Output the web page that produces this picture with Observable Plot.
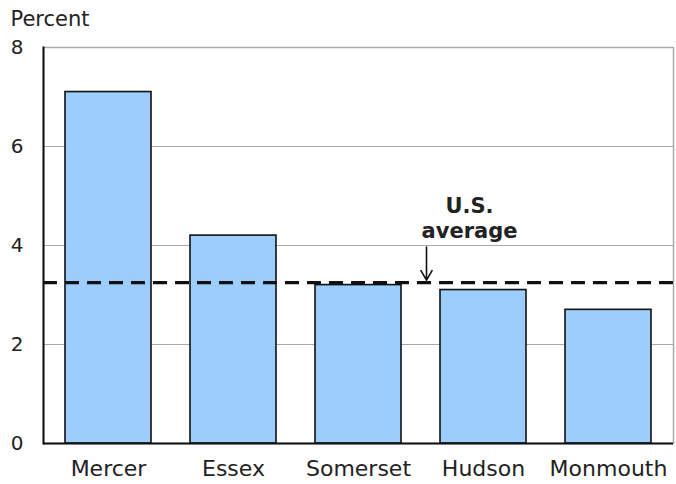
<!DOCTYPE html>
<html><head><meta charset="utf-8">
<script src="https://cdn.jsdelivr.net/npm/d3@7"></script>
<script src="https://cdn.jsdelivr.net/npm/@observablehq/plot@0.6"></script>
<style>body{margin:0;background:#fff;} svg{font-family:"DejaVu Sans",sans-serif;}</style>
</head><body><div id="chart"></div>
<script>
const counties = ["Mercer", "Essex", "Somerset", "Hudson", "Monmouth"];
const values = [7.1, 4.2, 3.2, 3.1, 2.7];
const usAverage = 3.25;
const yTicks = [0, 2, 4, 6, 8];
const yLabel = "Percent";
const noteText = "U.S.\naverage";

const data = counties.map((c, i) => ({county: c, value: values[i]}));

const chart = Plot.plot({
  width: 676, height: 484,
  marginLeft: 43, marginRight: 3, marginTop: 47, marginBottom: 41,
  style: {fontFamily: "'DejaVu Sans', sans-serif", background: "#fff"},
  x: {domain: counties, paddingInner: 0.31, paddingOuter: 0.16, label: null},
  y: {domain: [0, 8], label: null},
  marks: [
    Plot.gridY(yTicks, {stroke: "#aaa", strokeOpacity: 1, strokeWidth: 1}),
    Plot.frame({stroke: "#aaa", strokeWidth: 1.5}),
    Plot.barY(data, {x: "county", y: "value", fill: "#9dcdfc", stroke: "#111", strokeWidth: 1.6}),
    Plot.ruleY([usAverage], {stroke: "#111", strokeWidth: 3.2, strokeDasharray: "14,8"}),
    Plot.ruleY([0], {stroke: "#111", strokeWidth: 2}),
    Plot.frame({anchor: "left", stroke: "#111", strokeWidth: 2}),
    Plot.axisY(yTicks, {tickSize: 0, tickPadding: 20, fontSize: 20, fill: "#222", tickFormat: "d"}),
    Plot.axisX({tickSize: 0, tickPadding: 17, fontSize: 22, fill: "#222"}),
    Plot.text([yLabel], {frameAnchor: "top-left", dx: -33, dy: -36, fontSize: 21, fill: "#222", textAnchor: "start"}),
    Plot.text([noteText], {x: () => "Hudson", y: () => 4.57, dx: -14, fontSize: 21, fontWeight: "bold", lineHeight: 1.2, fill: "#222"}),
    Plot.arrow([0], {x1: () => "Hudson", x2: () => "Hudson", y1: () => 3.97, y2: () => 3.3, dx: -57, stroke: "#111", strokeWidth: 1.6, headLength: 11, bend: 0})
  ]
});
document.getElementById("chart").append(chart);
</script>
</body></html>
